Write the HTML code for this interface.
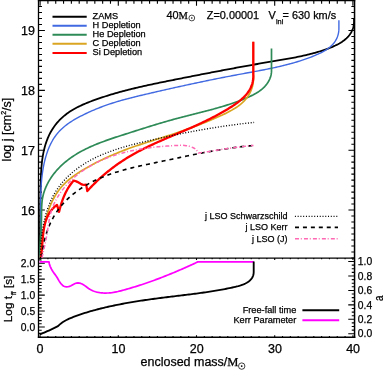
<!DOCTYPE html>
<html><head><meta charset="utf-8"><title>chart</title>
<style>html,body{margin:0;padding:0;background:#fff;}svg{display:block;will-change:transform;}text{stroke:#000;stroke-width:0.25px;}</style>
</head><body>
<svg width="383" height="370" viewBox="0 0 383 370" font-family="'Liberation Sans', sans-serif" fill="#000">
<rect width="383" height="370" fill="#fff"/>
<defs><clipPath id="cu"><rect x="38.5" y="0.65" width="316.05" height="257.35"/></clipPath></defs>
<g stroke="#000" fill="none">
<path d="M37.85 0.65 H355.3" stroke-width="1.2"/>
<path d="M38.5 258.1 H354.55" stroke-width="1.25"/>
<path d="M37.85 337.25 H355.3" stroke-width="1.4"/>
<path d="M38.5 0.15 V337.95" stroke-width="1.3"/>
<path d="M354.55 0.15 V337.95" stroke-width="1.5"/>
<path d="M40.1 0.65 v5 M47.92 0.65 v3 M55.74 0.65 v3 M63.56 0.65 v3 M71.38 0.65 v3 M79.2 0.65 v3 M87.02 0.65 v3 M94.84 0.65 v3 M102.66 0.65 v3 M110.48 0.65 v3 M118.3 0.65 v5 M126.12 0.65 v3 M133.94 0.65 v3 M141.76 0.65 v3 M149.58 0.65 v3 M157.4 0.65 v3 M165.22 0.65 v3 M173.04 0.65 v3 M180.86 0.65 v3 M188.68 0.65 v3 M196.5 0.65 v5 M204.32 0.65 v3 M212.14 0.65 v3 M219.96 0.65 v3 M227.78 0.65 v3 M235.6 0.65 v3 M243.42 0.65 v3 M251.24 0.65 v3 M259.06 0.65 v3 M266.88 0.65 v3 M274.7 0.65 v5 M282.52 0.65 v3 M290.34 0.65 v3 M298.16 0.65 v3 M305.98 0.65 v3 M313.8 0.65 v3 M321.62 0.65 v3 M329.44 0.65 v3 M337.26 0.65 v3 M345.08 0.65 v3 M352.9 0.65 v5 M40.1 258 v2 M40.1 337.25 v-2 M47.92 258 v1.3 M47.92 337.25 v-1.2 M55.74 258 v1.3 M55.74 337.25 v-1.2 M63.56 258 v1.3 M63.56 337.25 v-1.2 M71.38 258 v1.3 M71.38 337.25 v-1.2 M79.2 258 v1.3 M79.2 337.25 v-1.2 M87.02 258 v1.3 M87.02 337.25 v-1.2 M94.84 258 v1.3 M94.84 337.25 v-1.2 M102.66 258 v1.3 M102.66 337.25 v-1.2 M110.48 258 v1.3 M110.48 337.25 v-1.2 M118.3 258 v2 M118.3 337.25 v-2 M126.12 258 v1.3 M126.12 337.25 v-1.2 M133.94 258 v1.3 M133.94 337.25 v-1.2 M141.76 258 v1.3 M141.76 337.25 v-1.2 M149.58 258 v1.3 M149.58 337.25 v-1.2 M157.4 258 v1.3 M157.4 337.25 v-1.2 M165.22 258 v1.3 M165.22 337.25 v-1.2 M173.04 258 v1.3 M173.04 337.25 v-1.2 M180.86 258 v1.3 M180.86 337.25 v-1.2 M188.68 258 v1.3 M188.68 337.25 v-1.2 M196.5 258 v2 M196.5 337.25 v-2 M204.32 258 v1.3 M204.32 337.25 v-1.2 M212.14 258 v1.3 M212.14 337.25 v-1.2 M219.96 258 v1.3 M219.96 337.25 v-1.2 M227.78 258 v1.3 M227.78 337.25 v-1.2 M235.6 258 v1.3 M235.6 337.25 v-1.2 M243.42 258 v1.3 M243.42 337.25 v-1.2 M251.24 258 v1.3 M251.24 337.25 v-1.2 M259.06 258 v1.3 M259.06 337.25 v-1.2 M266.88 258 v1.3 M266.88 337.25 v-1.2 M274.7 258 v2 M274.7 337.25 v-2 M282.52 258 v1.3 M282.52 337.25 v-1.2 M290.34 258 v1.3 M290.34 337.25 v-1.2 M298.16 258 v1.3 M298.16 337.25 v-1.2 M305.98 258 v1.3 M305.98 337.25 v-1.2 M313.8 258 v1.3 M313.8 337.25 v-1.2 M321.62 258 v1.3 M321.62 337.25 v-1.2 M329.44 258 v1.3 M329.44 337.25 v-1.2 M337.26 258 v1.3 M337.26 337.25 v-1.2 M345.08 258 v1.3 M345.08 337.25 v-1.2 M352.9 258 v2 M352.9 337.25 v-2 M38.5 257.93 h3.5 M354.55 257.93 h-3.2 M38.5 251.94 h3.5 M354.55 251.94 h-3.2 M38.5 245.96 h3.5 M354.55 245.96 h-3.2 M38.5 239.97 h3.5 M354.55 239.97 h-3.2 M38.5 233.99 h3.5 M354.55 233.99 h-3.2 M38.5 228.01 h3.5 M354.55 228.01 h-3.2 M38.5 222.02 h3.5 M354.55 222.02 h-3.2 M38.5 216.03 h3.5 M354.55 216.03 h-3.2 M38.5 210.05 h6.4 M354.55 210.05 h-6.1 M38.5 204.06 h3.5 M354.55 204.06 h-3.2 M38.5 198.08 h3.5 M354.55 198.08 h-3.2 M38.5 192.09 h3.5 M354.55 192.09 h-3.2 M38.5 186.11 h3.5 M354.55 186.11 h-3.2 M38.5 180.12 h3.5 M354.55 180.12 h-3.2 M38.5 174.14 h3.5 M354.55 174.14 h-3.2 M38.5 168.16 h3.5 M354.55 168.16 h-3.2 M38.5 162.17 h3.5 M354.55 162.17 h-3.2 M38.5 156.19 h3.5 M354.55 156.19 h-3.2 M38.5 150.2 h6.4 M354.55 150.2 h-6.1 M38.5 144.21 h3.5 M354.55 144.21 h-3.2 M38.5 138.23 h3.5 M354.55 138.23 h-3.2 M38.5 132.24 h3.5 M354.55 132.24 h-3.2 M38.5 126.26 h3.5 M354.55 126.26 h-3.2 M38.5 120.28 h3.5 M354.55 120.28 h-3.2 M38.5 114.29 h3.5 M354.55 114.29 h-3.2 M38.5 108.31 h3.5 M354.55 108.31 h-3.2 M38.5 102.32 h3.5 M354.55 102.32 h-3.2 M38.5 96.34 h3.5 M354.55 96.34 h-3.2 M38.5 90.35 h6.4 M354.55 90.35 h-6.1 M38.5 84.36 h3.5 M354.55 84.36 h-3.2 M38.5 78.38 h3.5 M354.55 78.38 h-3.2 M38.5 72.39 h3.5 M354.55 72.39 h-3.2 M38.5 66.41 h3.5 M354.55 66.41 h-3.2 M38.5 60.42 h3.5 M354.55 60.42 h-3.2 M38.5 54.44 h3.5 M354.55 54.44 h-3.2 M38.5 48.46 h3.5 M354.55 48.46 h-3.2 M38.5 42.47 h3.5 M354.55 42.47 h-3.2 M38.5 36.49 h3.5 M354.55 36.49 h-3.2 M38.5 30.5 h6.4 M354.55 30.5 h-6.1 M38.5 24.51 h3.5 M354.55 24.51 h-3.2 M38.5 18.53 h3.5 M354.55 18.53 h-3.2 M38.5 12.54 h3.5 M354.55 12.54 h-3.2 M38.5 6.56 h3.5 M354.55 6.56 h-3.2 M38.5 333.38 h3.2 M38.5 330.19 h3.2 M38.5 327 h6.3 M38.5 323.81 h3.2 M38.5 320.62 h3.2 M38.5 317.43 h3.2 M38.5 314.24 h3.2 M38.5 311.05 h6.3 M38.5 307.86 h3.2 M38.5 304.67 h3.2 M38.5 301.48 h3.2 M38.5 298.29 h3.2 M38.5 295.1 h6.3 M38.5 291.91 h3.2 M38.5 288.72 h3.2 M38.5 285.53 h3.2 M38.5 282.34 h3.2 M38.5 279.15 h6.3 M38.5 275.96 h3.2 M38.5 272.77 h3.2 M38.5 269.58 h3.2 M38.5 266.39 h3.2 M38.5 263.2 h6.3 M38.5 260.01 h3.2 M354.55 333.75 h-6.3 M354.55 330.14 h-2.8 M354.55 326.53 h-2.8 M354.55 322.92 h-2.8 M354.55 319.31 h-6.3 M354.55 315.7 h-2.8 M354.55 312.09 h-2.8 M354.55 308.48 h-2.8 M354.55 304.87 h-6.3 M354.55 301.26 h-2.8 M354.55 297.65 h-2.8 M354.55 294.04 h-2.8 M354.55 290.43 h-6.3 M354.55 286.82 h-2.8 M354.55 283.21 h-2.8 M354.55 279.6 h-2.8 M354.55 275.99 h-6.3 M354.55 272.38 h-2.8 M354.55 268.77 h-2.8 M354.55 265.16 h-2.8 M354.55 261.55 h-6.3" stroke-width="1.1"/>
</g>
<g fill="none" stroke-linejoin="round" clip-path="url(#cu)">
<path d="M39.8 257.9 L39.83 256.38 L39.85 254.86 L39.87 253.34 L39.89 251.82 L39.91 250.31 L39.93 248.79 L39.95 247.28 L39.96 245.77 L39.98 244.26 L39.99 242.75 L40 241.24 L40.01 239.73 L40.02 238.22 L40.03 236.72 L40.04 235.21 L40.05 233.7 L40.06 232.2 L40.06 230.7 L40.07 229.19 L40.08 227.69 L40.08 226.19 L40.09 224.69 L40.1 223.18 L40.11 221.68 L40.11 220.18 L40.12 218.68 L40.13 217.18 L40.14 215.68 L40.15 214.18 L40.16 212.68 L40.17 211.18 L40.19 209.68 L40.2 208.17 L40.22 206.67 L40.23 205.17 L40.25 203.67 L40.27 202.16 L40.29 200.66 L40.31 199.16 L40.34 197.65 L40.36 196.15 L40.39 194.64 L40.42 193.13 L40.45 191.63 L40.49 190.12 L40.52 188.61 L40.56 187.1 L40.6 185.59 L40.65 184.07 L40.69 182.56 L40.74 181.04 L40.79 179.53 L40.85 178.01 L40.91 176.49 L40.98 174.97 L41.05 173.46 L41.13 171.94 L41.22 170.42 L41.33 168.9 L41.44 167.39 L41.57 165.87 L41.71 164.36 L41.86 162.85 L42.03 161.34 L42.22 159.84 L42.43 158.34 L42.66 156.84 L42.91 155.35 L43.18 153.86 L43.47 152.37 L43.79 150.89 L44.14 149.42 L44.51 147.95 L44.9 146.49 L45.33 145.04 L45.78 143.59 L46.26 142.16 L46.77 140.74 L47.31 139.33 L47.87 137.94 L48.47 136.56 L49.1 135.2 L49.76 133.86 L50.45 132.53 L51.18 131.22 L51.93 129.94 L52.73 128.67 L53.55 127.43 L54.41 126.21 L55.3 125.02 L56.23 123.85 L57.19 122.7 L58.18 121.58 L59.19 120.49 L60.24 119.42 L61.32 118.38 L62.42 117.37 L63.54 116.38 L64.69 115.42 L65.87 114.49 L67.06 113.59 L68.28 112.71 L69.52 111.86 L70.77 111.04 L72.05 110.25 L73.34 109.47 L74.65 108.73 L75.97 108 L77.31 107.3 L78.66 106.61 L80.02 105.95 L81.4 105.31 L82.78 104.68 L84.17 104.07 L85.57 103.47 L86.98 102.89 L88.4 102.32 L89.82 101.77 L91.24 101.23 L92.67 100.69 L94.1 100.17 L95.53 99.65 L96.96 99.15 L98.39 98.65 L99.83 98.16 L101.26 97.67 L102.7 97.2 L104.13 96.73 L105.57 96.26 L107.01 95.81 L108.45 95.36 L109.89 94.92 L111.33 94.48 L112.78 94.05 L114.22 93.62 L115.67 93.21 L117.11 92.79 L118.56 92.39 L120.01 91.99 L121.46 91.59 L122.91 91.2 L124.37 90.82 L125.82 90.44 L127.28 90.06 L128.74 89.69 L130.19 89.32 L131.65 88.96 L133.11 88.6 L134.58 88.25 L136.04 87.9 L137.5 87.55 L138.97 87.21 L140.43 86.87 L141.9 86.54 L143.36 86.21 L144.83 85.88 L146.3 85.55 L147.77 85.23 L149.24 84.91 L150.71 84.59 L152.19 84.28 L153.66 83.96 L155.13 83.65 L156.61 83.34 L158.08 83.04 L159.55 82.73 L161.03 82.43 L162.51 82.13 L163.98 81.83 L165.46 81.53 L166.94 81.23 L168.42 80.93 L169.9 80.64 L171.37 80.34 L172.85 80.05 L174.33 79.75 L175.81 79.46 L177.29 79.16 L178.77 78.87 L180.25 78.57 L181.73 78.28 L183.21 77.99 L184.7 77.69 L186.18 77.4 L187.66 77.11 L189.14 76.82 L190.62 76.52 L192.11 76.23 L193.59 75.94 L195.07 75.65 L196.55 75.36 L198.04 75.07 L199.52 74.78 L201 74.49 L202.48 74.2 L203.97 73.92 L205.45 73.63 L206.94 73.34 L208.42 73.05 L209.9 72.77 L211.39 72.48 L212.87 72.2 L214.35 71.91 L215.84 71.63 L217.32 71.35 L218.81 71.06 L220.29 70.78 L221.77 70.5 L223.26 70.22 L224.74 69.94 L226.23 69.66 L227.71 69.38 L229.2 69.1 L230.68 68.83 L232.16 68.55 L233.65 68.28 L235.13 68 L236.62 67.73 L238.1 67.45 L239.58 67.18 L241.07 66.91 L242.55 66.64 L244.03 66.37 L245.52 66.1 L247 65.84 L248.48 65.57 L249.97 65.3 L251.45 65.04 L252.93 64.77 L254.42 64.51 L255.9 64.25 L257.38 63.99 L258.86 63.73 L260.35 63.47 L261.83 63.21 L263.31 62.96 L264.79 62.7 L266.27 62.45 L267.75 62.19 L269.23 61.94 L270.71 61.69 L272.19 61.44 L273.67 61.19 L275.15 60.94 L276.63 60.7 L278.11 60.45 L279.59 60.2 L281.07 59.95 L282.55 59.7 L284.03 59.44 L285.5 59.18 L286.98 58.92 L288.46 58.66 L289.93 58.39 L291.41 58.12 L292.89 57.84 L294.36 57.56 L295.84 57.27 L297.31 56.98 L298.79 56.68 L300.26 56.37 L301.73 56.05 L303.2 55.73 L304.68 55.39 L306.15 55.05 L307.62 54.7 L309.09 54.34 L310.56 53.97 L312.03 53.58 L313.5 53.19 L314.97 52.78 L316.44 52.37 L317.9 51.94 L319.37 51.49 L320.84 51.03 L322.3 50.56 L323.77 50.08 L325.23 49.58 L326.7 49.06 L328.16 48.53 L329.61 47.98 L331.06 47.4 L332.49 46.81 L333.9 46.19 L335.3 45.55 L336.67 44.88 L338.01 44.18 L339.33 43.45 L340.61 42.69 L341.85 41.9 L343.06 41.07 L344.22 40.2 L345.34 39.29 L346.4 38.34 L347.41 37.35 L348.37 36.31 L349.27 35.23 L350.1 34.1 L350.86 32.93 L351.56 31.7 L352.17 30.42 L352.71 29.09 L353.16 27.7 L353.53 26.26 L353.8 24.77 L353.98 23.21 L354.06 21.6 L354.03 19.93 L353.9 18.2" stroke="#000" stroke-width="1.8"/>
<path d="M39.9 257.9 L40.04 256.39 L40.16 254.87 L40.27 253.36 L40.38 251.85 L40.47 250.34 L40.55 248.83 L40.62 247.32 L40.68 245.8 L40.73 244.29 L40.77 242.79 L40.81 241.28 L40.84 239.77 L40.86 238.26 L40.87 236.75 L40.88 235.24 L40.89 233.73 L40.89 232.23 L40.88 230.72 L40.87 229.21 L40.86 227.71 L40.84 226.2 L40.83 224.69 L40.81 223.19 L40.79 221.68 L40.76 220.17 L40.74 218.67 L40.72 217.16 L40.7 215.66 L40.68 214.15 L40.66 212.65 L40.64 211.14 L40.63 209.64 L40.62 208.13 L40.61 206.62 L40.61 205.12 L40.61 203.61 L40.62 202.11 L40.63 200.6 L40.65 199.1 L40.67 197.59 L40.71 196.09 L40.75 194.58 L40.79 193.07 L40.85 191.57 L40.92 190.06 L40.99 188.56 L41.08 187.05 L41.17 185.54 L41.28 184.04 L41.4 182.53 L41.53 181.02 L41.67 179.51 L41.83 178 L42 176.5 L42.18 174.99 L42.38 173.48 L42.59 171.97 L42.82 170.46 L43.07 168.95 L43.33 167.45 L43.61 165.94 L43.91 164.44 L44.23 162.95 L44.57 161.46 L44.93 159.97 L45.31 158.5 L45.71 157.03 L46.14 155.58 L46.59 154.13 L47.06 152.69 L47.56 151.27 L48.09 149.86 L48.64 148.47 L49.22 147.09 L49.82 145.73 L50.46 144.39 L51.12 143.06 L51.82 141.75 L52.54 140.47 L53.3 139.2 L54.09 137.96 L54.91 136.74 L55.76 135.54 L56.65 134.38 L57.58 133.23 L58.54 132.12 L59.54 131.03 L60.57 129.97 L61.64 128.94 L62.75 127.93 L63.88 126.95 L65.04 126 L66.23 125.07 L67.45 124.17 L68.69 123.28 L69.95 122.42 L71.23 121.58 L72.53 120.77 L73.84 119.97 L75.17 119.18 L76.51 118.42 L77.87 117.67 L79.23 116.94 L80.6 116.23 L81.97 115.53 L83.35 114.84 L84.73 114.16 L86.1 113.5 L87.49 112.85 L88.87 112.21 L90.25 111.58 L91.64 110.97 L93.02 110.37 L94.41 109.77 L95.8 109.19 L97.2 108.62 L98.59 108.06 L99.99 107.51 L101.39 106.98 L102.8 106.45 L104.2 105.93 L105.61 105.42 L107.03 104.93 L108.45 104.44 L109.87 103.96 L111.29 103.49 L112.72 103.03 L114.15 102.58 L115.59 102.14 L117.02 101.7 L118.46 101.28 L119.9 100.86 L121.35 100.44 L122.8 100.03 L124.24 99.63 L125.7 99.24 L127.15 98.85 L128.6 98.46 L130.06 98.09 L131.52 97.71 L132.98 97.34 L134.44 96.98 L135.9 96.61 L137.37 96.26 L138.83 95.9 L140.3 95.55 L141.77 95.2 L143.24 94.85 L144.71 94.5 L146.17 94.16 L147.64 93.82 L149.11 93.47 L150.59 93.13 L152.06 92.79 L153.53 92.45 L155 92.11 L156.47 91.77 L157.94 91.44 L159.41 91.1 L160.89 90.76 L162.36 90.43 L163.83 90.09 L165.3 89.76 L166.78 89.42 L168.25 89.09 L169.72 88.76 L171.2 88.43 L172.67 88.1 L174.14 87.77 L175.62 87.44 L177.09 87.12 L178.57 86.79 L180.04 86.46 L181.52 86.14 L182.99 85.82 L184.47 85.49 L185.94 85.17 L187.42 84.85 L188.9 84.53 L190.37 84.22 L191.85 83.9 L193.33 83.58 L194.8 83.27 L196.28 82.95 L197.76 82.64 L199.23 82.33 L200.71 82.02 L202.19 81.71 L203.67 81.4 L205.15 81.09 L206.62 80.79 L208.1 80.48 L209.58 80.18 L211.06 79.88 L212.54 79.58 L214.02 79.28 L215.5 78.98 L216.98 78.68 L218.46 78.38 L219.94 78.09 L221.42 77.8 L222.9 77.5 L224.38 77.21 L225.86 76.93 L227.34 76.64 L228.82 76.35 L230.3 76.07 L231.78 75.78 L233.26 75.5 L234.74 75.22 L236.22 74.94 L237.7 74.66 L239.18 74.39 L240.67 74.11 L242.15 73.84 L243.63 73.57 L245.11 73.3 L246.59 73.02 L248.07 72.75 L249.56 72.48 L251.04 72.21 L252.52 71.94 L254 71.67 L255.48 71.39 L256.96 71.12 L258.44 70.84 L259.92 70.56 L261.4 70.27 L262.87 69.99 L264.35 69.7 L265.83 69.41 L267.3 69.11 L268.78 68.81 L270.25 68.51 L271.72 68.2 L273.2 67.89 L274.67 67.57 L276.14 67.24 L277.61 66.91 L279.08 66.58 L280.54 66.23 L282.01 65.88 L283.47 65.53 L284.93 65.16 L286.4 64.79 L287.86 64.41 L289.31 64.03 L290.77 63.63 L292.23 63.23 L293.68 62.81 L295.13 62.39 L296.58 61.96 L298.03 61.51 L299.48 61.06 L300.92 60.6 L302.37 60.12 L303.81 59.64 L305.25 59.14 L306.68 58.63 L308.12 58.11 L309.55 57.58 L310.98 57.03 L312.41 56.48 L313.83 55.9 L315.26 55.32 L316.67 54.72 L318.08 54.1 L319.48 53.46 L320.85 52.8 L322.21 52.11 L323.54 51.39 L324.84 50.64 L326.1 49.86 L327.34 49.05 L328.53 48.19 L329.67 47.3 L330.77 46.36 L331.82 45.38 L332.81 44.35 L333.74 43.27 L334.6 42.14 L335.4 40.96 L336.13 39.71 L336.78 38.41 L337.36 37.05 L337.85 35.61 L338.25 34.12 L338.56 32.55 L338.78 30.91 L338.9 29.2 L338.9 29.2 L338.9 20.2" stroke="#4169e1" stroke-width="1.4"/>
<path d="M40.3 257.9 L40.23 256.35 L40.17 254.81 L40.14 253.28 L40.12 251.75 L40.12 250.23 L40.13 248.72 L40.16 247.21 L40.2 245.7 L40.25 244.2 L40.31 242.7 L40.37 241.2 L40.45 239.71 L40.53 238.21 L40.61 236.72 L40.7 235.23 L40.79 233.74 L40.88 232.25 L40.97 230.76 L41.05 229.26 L41.13 227.77 L41.21 226.27 L41.28 224.77 L41.34 223.26 L41.4 221.76 L41.44 220.24 L41.48 218.73 L41.5 217.21 L41.51 215.68 L41.52 214.15 L41.54 212.62 L41.55 211.09 L41.58 209.56 L41.62 208.03 L41.68 206.51 L41.77 204.98 L41.88 203.47 L42.02 201.95 L42.19 200.45 L42.41 198.96 L42.67 197.47 L42.97 195.99 L43.33 194.53 L43.73 193.08 L44.18 191.64 L44.67 190.21 L45.2 188.8 L45.78 187.4 L46.39 186.01 L47.04 184.65 L47.73 183.3 L48.46 181.96 L49.21 180.64 L50 179.34 L50.83 178.06 L51.68 176.8 L52.56 175.56 L53.46 174.34 L54.4 173.14 L55.35 171.97 L56.33 170.81 L57.33 169.68 L58.35 168.58 L59.39 167.49 L60.44 166.43 L61.52 165.4 L62.61 164.38 L63.72 163.39 L64.84 162.42 L65.99 161.47 L67.14 160.55 L68.32 159.64 L69.5 158.75 L70.71 157.88 L71.92 157.04 L73.15 156.21 L74.4 155.39 L75.66 154.6 L76.93 153.82 L78.21 153.06 L79.5 152.32 L80.81 151.59 L82.12 150.87 L83.45 150.18 L84.79 149.49 L86.13 148.82 L87.49 148.16 L88.85 147.52 L90.23 146.89 L91.61 146.27 L93 145.67 L94.39 145.07 L95.8 144.49 L97.2 143.91 L98.62 143.35 L100.04 142.79 L101.47 142.25 L102.9 141.71 L104.33 141.18 L105.77 140.66 L107.22 140.14 L108.66 139.63 L110.11 139.13 L111.57 138.64 L113.02 138.15 L114.47 137.66 L115.93 137.18 L117.39 136.7 L118.84 136.23 L120.3 135.76 L121.76 135.29 L123.21 134.83 L124.67 134.36 L126.12 133.9 L127.57 133.44 L129.02 132.98 L130.47 132.52 L131.91 132.06 L133.35 131.6 L134.79 131.14 L136.23 130.68 L137.66 130.22 L139.1 129.77 L140.53 129.31 L141.96 128.86 L143.39 128.41 L144.82 127.96 L146.25 127.51 L147.68 127.06 L149.11 126.61 L150.54 126.17 L151.96 125.73 L153.39 125.29 L154.82 124.85 L156.25 124.42 L157.68 123.99 L159.11 123.56 L160.54 123.13 L161.97 122.71 L163.4 122.28 L164.83 121.87 L166.27 121.45 L167.7 121.04 L169.14 120.63 L170.58 120.23 L172.02 119.83 L173.46 119.43 L174.91 119.03 L176.36 118.64 L177.81 118.26 L179.26 117.87 L180.71 117.49 L182.17 117.11 L183.63 116.74 L185.09 116.37 L186.55 115.99 L188.01 115.62 L189.48 115.25 L190.94 114.88 L192.41 114.51 L193.87 114.14 L195.34 113.77 L196.81 113.4 L198.27 113.03 L199.74 112.66 L201.21 112.29 L202.68 111.91 L204.15 111.53 L205.61 111.15 L207.08 110.77 L208.55 110.38 L210.01 109.99 L211.48 109.59 L212.94 109.2 L214.4 108.79 L215.87 108.38 L217.33 107.97 L218.79 107.55 L220.24 107.13 L221.7 106.7 L223.15 106.26 L224.6 105.82 L226.05 105.36 L227.5 104.91 L228.94 104.44 L230.39 103.97 L231.82 103.48 L233.26 102.99 L234.69 102.49 L236.12 101.98 L237.55 101.46 L238.97 100.93 L240.39 100.39 L241.81 99.84 L243.22 99.28 L244.63 98.71 L246.04 98.13 L247.44 97.53 L248.83 96.92 L250.21 96.29 L251.58 95.64 L252.94 94.97 L254.27 94.27 L255.59 93.54 L256.87 92.78 L258.14 91.99 L259.36 91.15 L260.56 90.28 L261.72 89.36 L262.84 88.39 L263.91 87.37 L264.94 86.3 L265.92 85.18 L266.84 84 L267.69 82.77 L268.48 81.5 L269.19 80.17 L269.82 78.81 L270.36 77.4 L270.81 75.95 L271.15 74.46 L271.38 72.94 L271.5 71.39 L271.5 69.8 L271.5 69.8 L271.5 48.6" stroke="#2e8b57" stroke-width="1.7"/>
<path d="M40.5 257.9 L40.59 256.46 L40.69 255.02 L40.79 253.56 L40.9 252.09 L41.01 250.62 L41.13 249.13 L41.26 247.64 L41.4 246.15 L41.55 244.65 L41.7 243.14 L41.87 241.63 L42.05 240.11 L42.24 238.59 L42.44 237.07 L42.65 235.55 L42.87 234.03 L43.11 232.51 L43.36 230.98 L43.62 229.46 L43.9 227.94 L44.2 226.43 L44.51 224.92 L44.83 223.41 L45.17 221.9 L45.53 220.4 L45.91 218.91 L46.31 217.43 L46.72 215.95 L47.15 214.48 L47.6 213.02 L48.08 211.57 L48.57 210.13 L49.09 208.7 L49.62 207.28 L50.18 205.88 L50.76 204.49 L51.37 203.11 L52 201.75 L52.65 200.4 L53.33 199.07 L54.03 197.75 L54.76 196.46 L55.51 195.18 L56.3 193.92 L57.11 192.68 L57.94 191.46 L58.81 190.26 L59.7 189.08 L60.63 187.92 L61.58 186.79 L62.57 185.68 L63.58 184.6 L64.63 183.54 L65.7 182.5 L66.8 181.49 L67.93 180.49 L69.08 179.52 L70.25 178.57 L71.44 177.63 L72.65 176.72 L73.88 175.82 L75.13 174.94 L76.39 174.08 L77.67 173.23 L78.96 172.4 L80.25 171.58 L81.56 170.78 L82.88 169.98 L84.2 169.2 L85.53 168.43 L86.86 167.67 L88.19 166.92 L89.52 166.18 L90.86 165.45 L92.2 164.72 L93.54 164.01 L94.88 163.3 L96.22 162.61 L97.57 161.92 L98.92 161.24 L100.28 160.57 L101.63 159.91 L102.99 159.26 L104.35 158.61 L105.71 157.98 L107.08 157.35 L108.45 156.73 L109.82 156.11 L111.19 155.51 L112.57 154.91 L113.95 154.32 L115.34 153.74 L116.72 153.16 L118.11 152.59 L119.51 152.03 L120.9 151.48 L122.3 150.93 L123.71 150.39 L125.12 149.86 L126.53 149.33 L127.94 148.81 L129.36 148.29 L130.78 147.78 L132.2 147.28 L133.63 146.78 L135.06 146.29 L136.49 145.8 L137.93 145.32 L139.37 144.84 L140.81 144.36 L142.25 143.89 L143.69 143.42 L145.13 142.96 L146.58 142.49 L148.03 142.03 L149.47 141.57 L150.92 141.12 L152.37 140.66 L153.82 140.21 L155.27 139.75 L156.71 139.3 L158.16 138.85 L159.61 138.39 L161.06 137.94 L162.5 137.49 L163.95 137.03 L165.39 136.58 L166.83 136.12 L168.27 135.66 L169.71 135.2 L171.14 134.73 L172.58 134.27 L174.01 133.8 L175.43 133.32 L176.86 132.85 L178.28 132.37 L179.7 131.88 L181.12 131.39 L182.54 130.9 L183.95 130.41 L185.36 129.91 L186.77 129.4 L188.18 128.89 L189.58 128.38 L190.99 127.86 L192.39 127.34 L193.8 126.82 L195.2 126.28 L196.6 125.75 L198 125.21 L199.4 124.66 L200.8 124.11 L202.2 123.56 L203.6 123 L205 122.43 L206.4 121.86 L207.8 121.28 L209.2 120.7 L210.6 120.11 L212 119.52 L213.4 118.92 L214.81 118.31 L216.21 117.7 L217.62 117.09 L219.03 116.46 L220.44 115.83 L221.84 115.19 L223.25 114.55 L224.65 113.89 L226.04 113.22 L227.42 112.53 L228.78 111.83 L230.14 111.11 L231.47 110.37 L232.79 109.61 L234.09 108.83 L235.36 108.03 L236.61 107.2 L237.83 106.35 L239.02 105.47 L240.18 104.56 L241.31 103.61 L242.4 102.64 L243.45 101.64 L244.47 100.59 L245.44 99.52 L246.36 98.4 L247.24 97.25 L248.07 96.05 L248.85 94.82 L249.58 93.54 L250.25 92.24 L250.86 90.89 L251.42 89.52 L251.92 88.11 L252.35 86.67 L252.72 85.2 L253.02 83.7 L253.25 82.17 L253.41 80.62 L253.5 79.05 L253.51 77.45 L253.44 75.84 L253.3 74.2 L253.3 74.2 L253.3 41.7" stroke="#daa520" stroke-width="1.7"/>
<path d="M40.9 257.4 L41.13 255.93 L41.33 254.44 L41.51 252.92 L41.68 251.39 L41.82 249.83 L41.96 248.26 L42.09 246.68 L42.21 245.08 L42.33 243.47 L42.45 241.86 L42.58 240.24 L42.72 238.63 L42.86 237.01 L43.03 235.39 L43.21 233.77 L43.41 232.17 L43.63 230.57 L43.89 228.98 L44.17 227.41 L44.49 225.85 L44.85 224.31 L45.25 222.79 L45.69 221.29 L46.18 219.82 L46.72 218.37 L47.32 216.96 L47.97 215.57 L48.69 214.22 L49.47 212.91 L50.31 211.63 L51.23 210.39 L52.22 209.2 L53.29 208.05 L54.44 206.95 L55.68 205.9 L57 204.9 L57 204.9 L59.1 211.8 L59.1 211.8 L59.47 210.29 L59.86 208.77 L60.27 207.25 L60.7 205.72 L61.16 204.2 L61.64 202.68 L62.15 201.17 L62.68 199.66 L63.24 198.17 L63.84 196.68 L64.46 195.21 L65.12 193.76 L65.8 192.32 L66.53 190.91 L67.29 189.51 L68.08 188.15 L68.92 186.81 L69.79 185.5 L70.7 184.22 L71.66 182.98 L72.66 181.77 L73.7 180.6 L73.7 180.6 L75.51 181.02 L77.26 181.84 L78.99 182.85 L80.71 183.84 L82.47 184.61 L84.29 184.93 L86.2 184.6 L86.2 184.6 L87.3 191.1 L87.3 191.1 L88.32 189.97 L89.34 188.85 L90.38 187.74 L91.43 186.64 L92.48 185.55 L93.55 184.47 L94.63 183.4 L95.71 182.33 L96.81 181.27 L97.91 180.23 L99.03 179.19 L100.15 178.16 L101.28 177.15 L102.42 176.14 L103.57 175.14 L104.73 174.15 L105.89 173.17 L107.07 172.2 L108.25 171.24 L109.44 170.29 L110.64 169.35 L111.85 168.42 L113.06 167.5 L114.28 166.59 L115.51 165.69 L116.74 164.8 L117.99 163.93 L119.24 163.06 L120.49 162.2 L121.76 161.36 L123.03 160.52 L124.3 159.7 L125.58 158.88 L126.87 158.08 L128.17 157.29 L129.47 156.51 L130.78 155.74 L132.09 154.98 L133.4 154.22 L134.73 153.48 L136.06 152.75 L137.39 152.03 L138.72 151.32 L140.07 150.61 L141.41 149.91 L142.76 149.22 L144.12 148.54 L145.48 147.87 L146.84 147.2 L148.2 146.54 L149.57 145.88 L150.95 145.23 L152.32 144.59 L153.7 143.95 L155.08 143.32 L156.46 142.69 L157.85 142.06 L159.24 141.44 L160.63 140.83 L162.02 140.21 L163.41 139.6 L164.81 139 L166.2 138.39 L167.6 137.79 L169 137.19 L170.4 136.59 L171.8 135.99 L173.2 135.39 L174.6 134.8 L176 134.2 L177.4 133.61 L178.8 133.01 L180.2 132.41 L181.6 131.81 L183 131.22 L184.4 130.62 L185.8 130.01 L187.2 129.41 L188.59 128.8 L189.98 128.19 L191.38 127.58 L192.77 126.96 L194.15 126.34 L195.54 125.72 L196.92 125.09 L198.3 124.46 L199.68 123.82 L201.06 123.18 L202.43 122.53 L203.8 121.87 L205.17 121.21 L206.53 120.55 L207.9 119.88 L209.26 119.2 L210.61 118.51 L211.97 117.82 L213.32 117.12 L214.66 116.42 L216.01 115.7 L217.35 114.98 L218.69 114.25 L220.03 113.51 L221.36 112.77 L222.69 112.01 L224.01 111.25 L225.34 110.47 L226.66 109.69 L227.97 108.9 L229.29 108.1 L230.59 107.28 L231.9 106.46 L233.19 105.62 L234.46 104.76 L235.73 103.89 L236.97 103 L238.19 102.09 L239.39 101.16 L240.56 100.2 L241.7 99.22 L242.8 98.21 L243.87 97.17 L244.9 96.1 L245.89 95 L246.83 93.87 L247.72 92.71 L248.56 91.5 L249.35 90.27 L250.07 89 L250.73 87.69 L251.33 86.34 L251.85 84.95 L252.31 83.53 L252.68 82.06 L252.98 80.55 L253.19 79 L253.32 77.41 L253.36 75.78 L253.3 74.1 L253.3 74.1 L253.3 41.7" stroke="#ff0000" stroke-width="2.3" stroke-linejoin="round"/>
<path d="M40.4 257.9 L40.41 256.43 L40.44 254.95 L40.47 253.47 L40.51 251.98 L40.56 250.49 L40.62 248.99 L40.7 247.48 L40.78 245.97 L40.88 244.46 L40.99 242.94 L41.11 241.42 L41.25 239.9 L41.4 238.38 L41.56 236.86 L41.73 235.34 L41.92 233.82 L42.13 232.29 L42.35 230.77 L42.58 229.26 L42.83 227.74 L43.1 226.23 L43.38 224.72 L43.69 223.21 L44 221.71 L44.34 220.22 L44.69 218.73 L45.06 217.25 L45.45 215.77 L45.86 214.3 L46.28 212.84 L46.73 211.39 L47.2 209.95 L47.68 208.51 L48.19 207.09 L48.72 205.68 L49.27 204.28 L49.84 202.89 L50.43 201.51 L51.05 200.14 L51.69 198.79 L52.35 197.46 L53.03 196.13 L53.74 194.83 L54.47 193.53 L55.23 192.26 L56.01 191 L56.82 189.76 L57.65 188.53 L58.5 187.32 L59.38 186.13 L60.28 184.96 L61.21 183.8 L62.15 182.67 L63.12 181.54 L64.11 180.44 L65.11 179.35 L66.14 178.28 L67.19 177.23 L68.25 176.19 L69.34 175.17 L70.44 174.17 L71.55 173.19 L72.69 172.22 L73.84 171.27 L75.01 170.34 L76.19 169.42 L77.38 168.52 L78.59 167.64 L79.81 166.78 L81.05 165.93 L82.3 165.1 L83.56 164.29 L84.83 163.49 L86.11 162.72 L87.4 161.95 L88.7 161.21 L90.01 160.48 L91.33 159.77 L92.66 159.07 L93.99 158.39 L95.34 157.73 L96.69 157.08 L98.05 156.44 L99.42 155.82 L100.8 155.21 L102.19 154.62 L103.58 154.04 L104.98 153.47 L106.38 152.92 L107.79 152.37 L109.21 151.84 L110.63 151.32 L112.06 150.81 L113.49 150.31 L114.93 149.82 L116.37 149.34 L117.82 148.88 L119.27 148.42 L120.73 147.97 L122.19 147.52 L123.65 147.09 L125.11 146.67 L126.58 146.25 L128.05 145.84 L129.53 145.44 L131 145.04 L132.48 144.65 L133.96 144.26 L135.44 143.88 L136.93 143.51 L138.41 143.14 L139.89 142.78 L141.38 142.42 L142.86 142.06 L144.35 141.71 L145.83 141.36 L147.32 141.01 L148.8 140.67 L150.28 140.32 L151.76 139.98 L153.24 139.65 L154.72 139.31 L156.2 138.98 L157.68 138.64 L159.15 138.31 L160.63 137.99 L162.1 137.66 L163.58 137.34 L165.05 137.02 L166.53 136.7 L168 136.38 L169.47 136.07 L170.94 135.76 L172.41 135.45 L173.88 135.14 L175.35 134.84 L176.82 134.53 L178.29 134.23 L179.76 133.93 L181.23 133.64 L182.7 133.35 L184.17 133.06 L185.64 132.77 L187.11 132.48 L188.58 132.2 L190.05 131.92 L191.52 131.64 L192.99 131.36 L194.46 131.09 L195.93 130.82 L197.4 130.55 L198.88 130.28 L200.35 130.02 L201.82 129.76 L203.3 129.5 L204.77 129.25 L206.25 128.99 L207.72 128.74 L209.2 128.5 L210.67 128.25 L212.15 128.01 L213.63 127.77 L215.11 127.53 L216.59 127.3 L218.08 127.07 L219.56 126.84 L221.04 126.62 L222.53 126.39 L224.02 126.17 L225.51 125.96 L227 125.74 L228.49 125.53 L229.98 125.32 L231.47 125.12 L232.97 124.92 L234.47 124.72 L235.97 124.52 L237.47 124.33 L238.97 124.14 L240.47 123.95 L241.98 123.76 L243.49 123.58 L245 123.4 L246.51 123.23 L248.02 123.06 L249.54 122.89 L251.06 122.72 L252.58 122.56 L254.1 122.4" stroke="#000" stroke-width="1.35" stroke-dasharray="1 1.76"/>
<path d="M42 257.4 L42.11 255.87 L42.23 254.33 L42.38 252.8 L42.56 251.27 L42.75 249.75 L42.97 248.23 L43.21 246.71 L43.48 245.2 L43.77 243.69 L44.08 242.19 L44.41 240.69 L44.77 239.2 L45.16 237.72 L45.56 236.25 L45.99 234.78 L46.44 233.33 L46.92 231.88 L47.42 230.44 L47.94 229.02 L48.48 227.6 L49.05 226.2 L49.64 224.8 L50.26 223.42 L50.9 222.06 L51.56 220.7 L52.25 219.36 L52.96 218.04 L53.69 216.73 L54.45 215.43 L55.23 214.16 L56.03 212.89 L56.86 211.65 L57.71 210.42 L58.59 209.21 L59.49 208.02 L60.41 206.85 L61.35 205.7 L62.32 204.56 L63.31 203.44 L64.31 202.35 L65.34 201.26 L66.39 200.2 L67.46 199.16 L68.54 198.13 L69.65 197.12 L70.77 196.13 L71.91 195.16 L73.06 194.2 L74.23 193.26 L75.42 192.34 L76.62 191.44 L77.83 190.55 L79.06 189.68 L80.31 188.83 L81.56 188 L82.83 187.18 L84.11 186.38 L85.4 185.6 L86.7 184.83 L88.01 184.09 L89.33 183.35 L90.66 182.64 L92 181.94 L93.34 181.26 L94.7 180.59 L96.06 179.94 L97.42 179.31 L98.8 178.69 L100.18 178.09 L101.56 177.5 L102.96 176.93 L104.36 176.37 L105.76 175.82 L107.17 175.29 L108.59 174.77 L110.01 174.26 L111.43 173.76 L112.87 173.28 L114.3 172.81 L115.74 172.34 L117.19 171.89 L118.64 171.45 L120.09 171.02 L121.55 170.6 L123.01 170.18 L124.47 169.78 L125.94 169.38 L127.41 168.99 L128.88 168.61 L130.36 168.24 L131.83 167.87 L133.31 167.51 L134.8 167.16 L136.28 166.81 L137.77 166.46 L139.25 166.12 L140.74 165.79 L142.23 165.46 L143.72 165.13 L145.21 164.81 L146.71 164.49 L148.2 164.17 L149.69 163.86 L151.18 163.54 L152.68 163.23 L154.17 162.92 L155.66 162.61 L157.15 162.3 L158.64 161.99 L160.13 161.68 L161.62 161.36 L163.1 161.05 L164.59 160.74 L166.07 160.43 L167.55 160.11 L169.04 159.8 L170.52 159.49 L172 159.17 L173.48 158.86 L174.96 158.55 L176.43 158.23 L177.91 157.92 L179.39 157.61 L180.87 157.3 L182.34 156.99 L183.82 156.68 L185.29 156.37 L186.77 156.07 L188.24 155.76 L189.72 155.46 L191.2 155.15 L192.67 154.85 L194.15 154.56 L195.62 154.26 L197.1 153.96 L198.57 153.67 L200.05 153.38 L201.53 153.09 L203.01 152.81 L204.48 152.53 L205.96 152.25 L207.44 151.97 L208.92 151.7 L210.4 151.42 L211.89 151.16 L213.37 150.89 L214.85 150.63 L216.34 150.37 L217.82 150.12 L219.31 149.87 L220.8 149.63 L222.29 149.38 L223.78 149.15 L225.27 148.91 L226.77 148.68 L228.26 148.46 L229.76 148.24 L231.26 148.02 L232.76 147.81 L234.26 147.61 L235.77 147.41 L237.28 147.22 L238.79 147.03 L240.3 146.84 L241.81 146.66 L243.32 146.49 L244.84 146.32 L246.36 146.16 L247.88 146.01 L249.41 145.86 L250.94 145.72 L252.47 145.58 L254 145.45" stroke="#000" stroke-width="1.6" stroke-dasharray="4 4"/>
<path d="M42 257.8 L42.33 256.32 L42.66 254.84 L43 253.36 L43.33 251.89 L43.66 250.41 L43.99 248.93 L44.32 247.46 L44.65 245.98 L44.96 244.5 L45.28 243.02 L45.58 241.54 L45.88 240.05 L46.17 238.57 L46.45 237.08 L46.71 235.58 L46.97 234.09 L47.21 232.59 L47.45 231.08 L47.68 229.58 L47.9 228.07 L48.13 226.56 L48.35 225.06 L48.59 223.55 L48.83 222.05 L49.09 220.55 L49.37 219.06 L49.66 217.58 L49.98 216.1 L50.33 214.63 L50.7 213.17 L51.11 211.71 L51.55 210.27 L52.03 208.85 L52.54 207.43 L53.1 206.03 L53.68 204.64 L54.3 203.26 L54.96 201.9 L55.64 200.55 L56.36 199.21 L57.11 197.89 L57.89 196.59 L58.69 195.3 L59.52 194.02 L60.38 192.76 L61.27 191.52 L62.18 190.29 L63.11 189.09 L64.07 187.9 L65.04 186.72 L66.04 185.57 L67.06 184.43 L68.1 183.31 L69.16 182.21 L70.23 181.13 L71.32 180.07 L72.43 179.03 L73.55 178.01 L74.68 177.01 L75.83 176.03 L76.99 175.07 L78.17 174.14 L79.36 173.22 L80.56 172.32 L81.77 171.43 L83 170.57 L84.24 169.73 L85.49 168.91 L86.75 168.1 L88.02 167.31 L89.3 166.54 L90.6 165.79 L91.9 165.05 L93.22 164.34 L94.55 163.64 L95.88 162.95 L97.23 162.29 L98.58 161.64 L99.94 161 L101.32 160.38 L102.7 159.78 L104.09 159.2 L105.48 158.63 L106.89 158.07 L108.3 157.53 L109.72 157.01 L111.15 156.5 L112.58 156 L114.02 155.52 L115.47 155.05 L116.92 154.6 L118.38 154.16 L119.84 153.73 L121.31 153.32 L122.79 152.92 L124.27 152.53 L125.75 152.15 L127.24 151.79 L128.73 151.44 L130.22 151.1 L131.72 150.78 L133.23 150.46 L134.73 150.16 L136.24 149.87 L137.75 149.59 L139.26 149.32 L140.78 149.06 L142.3 148.81 L143.81 148.57 L145.33 148.34 L146.85 148.12 L148.38 147.91 L149.9 147.71 L151.42 147.52 L152.94 147.34 L154.46 147.17 L155.99 147 L157.51 146.84 L159.03 146.7 L160.54 146.56 L162.06 146.42 L163.58 146.3 L165.09 146.18 L166.6 146.07 L168.11 145.97 L169.61 145.87 L171.12 145.78 L172.62 145.69 L174.11 145.62 L175.6 145.54 L177.09 145.48 L178.58 145.42 L180.06 145.36 L181.53 145.31 L183 145.26 L183 145.26 L184.54 145.44 L186.15 145.66 L187.81 145.96 L189.47 146.34 L191.1 146.84 L192.67 147.45 L194.14 148.22 L195.47 149.14 L196.63 150.26 L197.59 151.57 L198.3 153.1 L198.3 153.1 L199.83 152.86 L201.36 152.62 L202.89 152.38 L204.42 152.13 L205.95 151.89 L207.48 151.65 L209.01 151.41 L210.53 151.17 L212.06 150.93 L213.59 150.69 L215.12 150.45 L216.65 150.21 L218.19 149.97 L219.72 149.74 L221.25 149.51 L222.78 149.28 L224.31 149.05 L225.84 148.82 L227.37 148.6 L228.91 148.38 L230.44 148.16 L231.97 147.95 L233.51 147.74 L235.04 147.53 L236.58 147.33 L238.11 147.13 L239.65 146.93 L241.19 146.74 L242.72 146.55 L244.26 146.37 L245.8 146.2 L247.34 146.03 L248.88 145.86 L250.42 145.7 L251.96 145.55 L253.5 145.4" stroke="#ff69b4" stroke-width="1.5" stroke-dasharray="4 1.8 1 2.1"/>
</g>
<g fill="none" stroke-linejoin="round">
<path d="M39.6 261.9 L49 261.9 L49 261.9 L49.25 263.42 L49.65 264.9 L50.17 266.36 L50.79 267.77 L51.49 269.13 L52.26 270.45 L53.06 271.72 L53.89 272.93 L54.74 274.12 L55.59 275.31 L56.44 276.54 L57.28 277.82 L58.1 279.18 L58.92 280.59 L59.77 281.97 L60.67 283.29 L61.64 284.47 L62.7 285.46 L63.89 286.22 L65.2 286.68 L66.61 286.86 L68.07 286.75 L69.53 286.38 L70.96 285.76 L72.34 284.98 L73.71 284.19 L75.09 283.53 L76.5 283.11 L77.94 282.98 L79.37 283.11 L80.77 283.47 L82.13 284.04 L83.44 284.78 L84.72 285.64 L85.99 286.57 L87.26 287.52 L88.54 288.45 L89.86 289.31 L91.23 290.07 L92.63 290.72 L94.06 291.27 L95.52 291.74 L96.99 292.13 L98.48 292.44 L99.96 292.69 L101.45 292.86 L102.94 292.98 L104.43 293.04 L105.93 293.04 L107.42 293 L108.92 292.9 L110.42 292.76 L111.92 292.58 L113.41 292.36 L114.91 292.1 L116.41 291.81 L117.9 291.5 L119.39 291.15 L120.89 290.79 L122.38 290.41 L123.86 290.01 L125.35 289.61 L126.83 289.19 L128.31 288.77 L129.78 288.34 L131.25 287.9 L132.72 287.46 L134.18 287.02 L135.64 286.57 L137.1 286.11 L138.56 285.65 L140.01 285.18 L141.46 284.71 L142.9 284.23 L144.35 283.74 L145.79 283.25 L147.23 282.76 L148.66 282.26 L150.1 281.75 L151.53 281.24 L152.95 280.73 L154.38 280.21 L155.8 279.68 L157.23 279.16 L158.65 278.62 L160.06 278.08 L161.48 277.54 L162.89 276.99 L164.3 276.44 L165.71 275.88 L167.12 275.31 L168.53 274.75 L169.93 274.18 L171.34 273.6 L172.74 273.02 L174.14 272.44 L175.54 271.85 L176.94 271.26 L178.33 270.66 L179.73 270.06 L181.12 269.45 L182.52 268.84 L183.91 268.23 L185.3 267.61 L186.69 266.99 L188.08 266.37 L189.47 265.74 L190.86 265.11 L192.25 264.48 L193.64 263.84 L195.03 263.19 L196.41 262.55 L197.8 261.9 L197.8 261.9 L253.8 261.9" stroke="#ff00ff" stroke-width="1.75"/>
<path d="M39.6 334.5 L41.16 333.86 L42.71 333.22 L44.26 332.56 L45.8 331.89 L47.34 331.21 L48.88 330.53 L50.41 329.83 L51.94 329.12 L53.46 328.41 L54.98 327.68 L56.49 326.95 L58 326.2 L58 326.2 L59.06 325.11 L60.17 324.1 L61.34 323.16 L62.56 322.29 L63.82 321.47 L65.11 320.71 L66.44 320 L67.8 319.33 L69.18 318.7 L70.58 318.1 L72 317.52 L73.42 316.97 L74.85 316.43 L76.28 315.9 L77.71 315.39 L79.14 314.89 L80.57 314.39 L82.01 313.91 L83.45 313.44 L84.89 312.98 L86.33 312.53 L87.77 312.09 L89.22 311.65 L90.67 311.23 L92.12 310.82 L93.57 310.41 L95.02 310.02 L96.48 309.63 L97.94 309.25 L99.4 308.87 L100.86 308.5 L102.32 308.15 L103.79 307.79 L105.26 307.44 L106.73 307.1 L108.2 306.77 L109.68 306.44 L111.15 306.12 L112.63 305.8 L114.11 305.49 L115.59 305.18 L117.07 304.88 L118.56 304.58 L120.05 304.29 L121.53 304.01 L123.02 303.73 L124.51 303.45 L126 303.18 L127.5 302.91 L128.99 302.65 L130.49 302.39 L131.98 302.14 L133.48 301.89 L134.98 301.64 L136.47 301.4 L137.97 301.16 L139.47 300.93 L140.97 300.7 L142.47 300.47 L143.98 300.25 L145.48 300.03 L146.98 299.81 L148.48 299.6 L149.99 299.38 L151.49 299.18 L152.99 298.97 L154.49 298.77 L156 298.56 L157.5 298.37 L159 298.17 L160.5 297.97 L162.01 297.78 L163.51 297.59 L165.01 297.4 L166.51 297.21 L168.01 297.03 L169.51 296.84 L171.01 296.66 L172.51 296.48 L174 296.3 L175.5 296.12 L176.99 295.94 L178.49 295.76 L179.98 295.58 L181.48 295.4 L182.97 295.22 L184.46 295.04 L185.96 294.86 L187.45 294.68 L188.94 294.49 L190.43 294.31 L191.93 294.12 L193.42 293.93 L194.91 293.74 L196.4 293.55 L197.89 293.35 L199.39 293.15 L200.88 292.95 L202.37 292.74 L203.87 292.53 L205.36 292.32 L206.85 292.1 L208.35 291.88 L209.84 291.65 L211.34 291.41 L212.84 291.18 L214.33 290.93 L215.83 290.68 L217.33 290.43 L218.83 290.17 L220.33 289.9 L221.84 289.62 L223.34 289.34 L224.84 289.05 L226.35 288.76 L227.86 288.45 L229.36 288.14 L230.87 287.82 L232.39 287.49 L233.9 287.15 L235.41 286.81 L236.92 286.44 L238.42 286.06 L239.9 285.64 L241.35 285.18 L242.76 284.67 L244.14 284.11 L245.47 283.49 L246.75 282.79 L247.97 282.02 L249.12 281.16 L250.19 280.21 L251.16 279.15 L252.01 277.99 L252.71 276.71 L253.25 275.31 L253.58 273.77 L253.7 272.1 L253.7 272.1 L253.7 261.6" stroke="#000" stroke-width="1.85"/>
</g>
<g fill="none">
<path d="M52.5 16.7 H86.7" stroke="#000" stroke-width="1.9"/>
<path d="M52.5 25.75 H86.7" stroke="#4169e1" stroke-width="2.0"/>
<path d="M52.5 34.8 H86.7" stroke="#2e8b57" stroke-width="2.0"/>
<path d="M52.5 43.85 H86.7" stroke="#daa520" stroke-width="2.0"/>
<path d="M52.5 52.9 H86.7" stroke="#ff0000" stroke-width="2.0"/>
<path d="M294.9 216.3 H338" stroke="#000" stroke-width="1.35" stroke-dasharray="1 1.76"/>
<path d="M295 227.4 H338" stroke="#000" stroke-width="1.6" stroke-dasharray="4 3.94"/>
<path d="M295 238.8 H338" stroke="#ff69b4" stroke-width="1.5" stroke-dasharray="4 1.8 1 2.16"/>
<path d="M302.4 310.2 H339.2" stroke="#000" stroke-width="2"/>
<path d="M302.4 320.2 H339.2" stroke="#ff00ff" stroke-width="1.9"/>
</g>
<g font-size="12.5" text-anchor="end">
<text x="35" y="35">19</text>
<text x="35" y="94.85">18</text>
<text x="35" y="154.7">17</text>
<text x="35" y="214.55">16</text>
</g>
<g font-size="12.5" text-anchor="middle">
<text x="40.1" y="352.6">0</text>
<text x="118.5" y="352.6">10</text>
<text x="196.7" y="352.6">20</text>
<text x="274.9" y="352.6">30</text>
<text x="353.1" y="352.6">40</text>
</g>
<g font-size="10.3" text-anchor="end">
<text x="35.2" y="330.7">0.0</text>
<text x="35.2" y="314.75">0.5</text>
<text x="35.2" y="298.8">1.0</text>
<text x="35.2" y="282.85">1.5</text>
<text x="35.2" y="266.9">2.0</text>
</g>
<g font-size="10.3">
<text x="357.8" y="337.45">0.0</text>
<text x="357.8" y="323.01">0.2</text>
<text x="357.8" y="308.57">0.4</text>
<text x="357.8" y="294.13">0.6</text>
<text x="357.8" y="279.69">0.8</text>
<text x="357.8" y="265.25">1.0</text>
</g>
<g font-size="9.2">
<text x="92.6" y="18.7">ZAMS</text>
<text x="92.6" y="27.73">H Depletion</text>
<text x="92.6" y="36.76">He Depletion</text>
<text x="92.6" y="45.79">C Depletion</text>
<text x="92.6" y="54.82">Si Depletion</text>
</g>
<g font-size="9" text-anchor="end">
<text x="287.5" y="219">j LSO Schwarzschild</text>
<text x="287.5" y="230.4">j LSO Kerr</text>
<text x="287.5" y="241.5">j LSO (J)</text>
<text x="296.3" y="312.6" font-size="9.2">Free-fall time</text>
<text x="296.3" y="322.7" font-size="9.2">Kerr Parameter</text>
</g>
<g font-size="10.9">
<text x="166.4" y="18.8">40<tspan font-family="'Liberation Serif', serif" font-size="10.5">M</tspan></text>
<circle cx="191.8" cy="18" r="2.9" fill="none" stroke="#000" stroke-width="0.7"/><circle cx="191.8" cy="18" r="0.8"/>
<text x="206.8" y="18.8">Z=0.00001</text>
<text x="268.6" y="18.8">V</text>
<text x="275.9" y="23.8" font-size="7.4">ini</text>
<text x="282.6" y="18.8">= 630 km/s</text>
</g>
<text x="140.5" y="366" font-size="12.5">enclosed mass/<tspan font-family="'Liberation Serif', serif">M</tspan></text>
<circle cx="241.7" cy="366.1" r="3.2" fill="none" stroke="#000" stroke-width="0.75"/><circle cx="241.7" cy="366.1" r="0.9"/>
<text transform="translate(11.4 161.4) rotate(-90)" font-size="12.5">log j [cm<tspan dy="-5.2" font-size="7">2</tspan><tspan dy="5.2">/s]</tspan></text>
<text transform="translate(11.6 322.2) rotate(-90)" font-size="11.8">Log t<tspan dy="4.2" dx="0.6" font-size="7.4">ff</tspan><tspan dy="-4.2"> [s]</tspan></text>
<text transform="translate(383.2 301.0) rotate(-90) scale(0.86 1.12)" font-size="11.5">a</text>
</svg>
</body></html>
